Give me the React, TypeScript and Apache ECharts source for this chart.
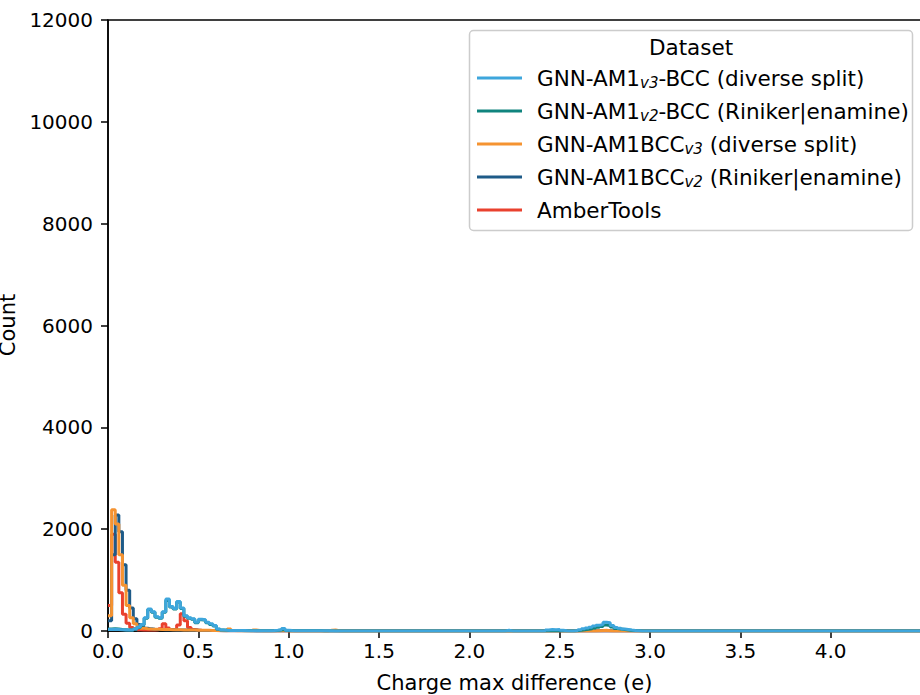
import React, { useEffect, useRef } from "react";
import * as echarts from "echarts";

// ---- data (histogram counts per 0.02 e bin, starting at 0) ----
const BIN_WIDTH = 0.02;
const X_MAX = 4.5;
const Y_TICKS = [0, 2000, 4000, 6000, 8000, 10000, 12000];

const SERIES_NAMES = [
  "GNN-AM1v3-BCC (diverse split)",
  "GNN-AM1v2-BCC (Riniker|enamine)",
  "GNN-AM1BCCv3 (diverse split)",
  "GNN-AM1BCCv2 (Riniker|enamine)",
  "AmberTools",
];

const am1V3Near = [30, 35, 30, 25, 20, 18, 20, 40, 80, 130, 260, 430, 380, 280, 260, 380, 630, 480, 440, 580, 450, 300, 260, 240, 170, 230, 220, 170, 140, 110, 40, 20, 15, 12, 10, 10, 8, 8, 7, 7, 6, 6, 5, 5, 5, 8, 14, 25, 50, 15, 8, 6, 5, 5, 4, 4, 4, 3, 3, 3, 3, 3, 2, 2, 2, 2];
const am1V3FarStart = 109;
const am1V3Far = [2, 15, 2, 2, 2, 2, 2, 2, 2, 2, 2, 2, 20, 30, 25, 30, 15, 3, 2, 2, 10, 25, 45, 60, 75, 100, 115, 125, 170, 160, 110, 70, 55, 40, 30, 20, 12, 6];

const am1V2Near = [40, 45, 40, 30, 25, 20, 20, 35, 70, 120, 250, 420, 370, 270, 250, 370, 600, 470, 430, 570, 440, 290, 250, 230, 160, 220, 210, 160, 130, 100, 35, 18, 14, 12, 10, 9, 8, 7, 7, 6, 6, 5, 5, 5, 4, 6, 10, 18, 30, 12, 6, 5, 4, 4, 4, 3, 3, 3, 3, 2, 2, 2, 2, 2, 2, 2];
const am1V2FarStart = 129;
const am1V2Far = [5, 15, 25, 35, 45, 60, 75, 90, 120, 110, 80, 50, 40, 30, 20, 12, 6, 3];

const am1bccV3Near = [300, 2380, 2100, 1500, 900, 500, 260, 140, 80, 55, 45, 40, 36, 33, 30, 30, 28, 26, 25, 24, 22, 20, 20, 18, 16, 15, 15, 14, 12, 10, 9, 8, 7, 40, 12, 6, 5, 5, 4, 4, 20, 8, 4, 4, 3, 3, 3, 3, 3, 2, 2, 2, 2, 2, 2, 2, 2, 2, 2, 2, 2, 15, 18, 5, 2];
const am1bccV3FarStart = 135;
const am1bccV3Far = [5, 8, 15, 6];

const am1bccV2Near = [200, 1500, 2280, 1950, 1300, 800, 450, 240, 130, 80, 55, 42, 35, 30, 28, 26, 25, 24, 22, 20, 20, 18, 16, 15, 14, 12, 12, 10, 10, 9, 8, 7, 6, 5, 5, 4, 4, 3, 3, 3, 2, 2, 2, 2, 2];

const amberNear = [500, 1900, 1350, 750, 330, 150, 70, 40, 25, 20, 20, 20, 22, 25, 45, 140, 60, 30, 35, 120, 340, 200, 70, 30, 20, 15, 12, 10, 8, 8, 6, 6, 5, 5, 4, 4, 3, 3, 3, 2, 2];

const COLORS = ["#3ea6dc", "#10847e", "#f59331", "#1e5b88", "#e9412e"];

const LEGEND_RICH: Record<string, string> = {
  "GNN-AM1v3-BCC (diverse split)": "{t|GNN-AM1}{s|v3}{t|-BCC (diverse split)}",
  "GNN-AM1v2-BCC (Riniker|enamine)": "{t|GNN-AM1}{s|v2}{t|-BCC (Riniker|enamine)}",
  "GNN-AM1BCCv3 (diverse split)": "{t|GNN-AM1BCC}{s|v3}{t| (diverse split)}",
  "GNN-AM1BCCv2 (Riniker|enamine)": "{t|GNN-AM1BCC}{s|v2}{t| (Riniker|enamine)}",
  AmberTools: "{t|AmberTools}",
};

const FONT = "DejaVu Sans";

function buildCounts(near: number[], far: number[], farStart: number): number[] {
  const nBins = Math.ceil(X_MAX / BIN_WIDTH - 1e-9);
  const counts: number[] = new Array(nBins).fill(0);
  near.forEach((c, i) => {
    if (i < nBins) counts[i] = c;
  });
  far.forEach((c, i) => {
    if (farStart + i < nBins) counts[farStart + i] = c;
  });
  return counts;
}

function toSteps(counts: number[]): [number, number][] {
  const pts: [number, number][] = counts.map((c, i) => [+(i * BIN_WIDTH).toFixed(4), c]);
  pts.push([+(counts.length * BIN_WIDTH).toFixed(4), counts[counts.length - 1]]);
  return pts;
}

export default function App() {
  const ref = useRef<HTMLDivElement>(null);

  useEffect(() => {
    if (!ref.current) return;
    const chart = echarts.init(ref.current, null, { renderer: "svg" });

    const countsByName: Record<string, number[]> = {
      [SERIES_NAMES[0]]: buildCounts(am1V3Near, am1V3Far, am1V3FarStart),
      [SERIES_NAMES[1]]: buildCounts(am1V2Near, am1V2Far, am1V2FarStart),
      [SERIES_NAMES[2]]: buildCounts(am1bccV3Near, am1bccV3Far, am1bccV3FarStart),
      [SERIES_NAMES[3]]: buildCounts(am1bccV2Near, [], 0),
      [SERIES_NAMES[4]]: buildCounts(amberNear, [], 0),
    };

    // seaborn draws hue levels in reverse order: first level on top
    const drawOrder = [4, 3, 2, 1, 0];
    const series = drawOrder.map((idx) => ({
      name: SERIES_NAMES[idx],
      type: "line",
      step: "end",
      showSymbol: false,
      symbol: "none",
      data: toSteps(countsByName[SERIES_NAMES[idx]]),
      lineStyle: { color: COLORS[idx], width: 3 },
      itemStyle: { color: COLORS[idx] },
      z: 2 + (4 - idx),
      silent: true,
    }));

    chart.setOption({
      animation: false,
      backgroundColor: "#ffffff",
      grid: {
        left: 108,
        top: 20,
        width: 813,
        height: 611,
        show: true,
        borderColor: "#000",
        borderWidth: 1.5,
        outerBoundsMode: "none",
        containLabel: false,
      },
      xAxis: {
        type: "value",
        min: 0,
        max: X_MAX,
        interval: 0.5,
        name: "Charge max difference (e)",
        nameLocation: "middle",
        nameGap: 41,
        nameTextStyle: { fontFamily: FONT, fontSize: 21, color: "#000" },
        axisLine: { show: true, lineStyle: { color: "#000", width: 1.5 } },
        axisTick: { show: true, inside: false, length: 7, lineStyle: { color: "#000", width: 1.5 } },
        axisLabel: {
          showMaxLabel: false,
          margin: 10,
          fontFamily: FONT,
          fontSize: 20,
          color: "#000",
          formatter: (v: number) => v.toFixed(1),
        },
        splitLine: { show: false },
      },
      yAxis: {
        type: "value",
        min: Y_TICKS[0],
        max: Y_TICKS[Y_TICKS.length - 1],
        interval: Y_TICKS[1] - Y_TICKS[0],
        axisLine: { show: true, lineStyle: { color: "#000", width: 1.5 } },
        axisTick: { show: true, inside: false, length: 7, lineStyle: { color: "#000", width: 1.5 } },
        axisLabel: {
          margin: 15,
          fontFamily: FONT,
          fontSize: 20,
          color: "#000",
          formatter: (v: number) => String(v),
        },
        splitLine: { show: false },
      },
      legend: {
        data: SERIES_NAMES,
        orient: "vertical",
        left: 469,
        top: 30,
        padding: [37, 8, 10, 8],
        itemGap: 10,
        itemWidth: 45,
        itemHeight: 3,
        icon: "rect",
        selectedMode: false,
        z: 6,
        formatter: (name: string) => LEGEND_RICH[name] ?? name,
        textStyle: {
          padding: [0, 0, 0, 10],
          rich: {
            t: { fontFamily: FONT, fontSize: 21.5, lineHeight: 24, color: "#000" },
            s: {
              fontFamily: FONT,
              fontSize: 15,
              fontStyle: "italic",
              lineHeight: 15,
              verticalAlign: "bottom",
              color: "#000",
            },
          },
        },
      },
      graphic: [
        {
          type: "rect",
          z: 5,
          shape: { x: 469.5, y: 30.5, width: 443, height: 200, r: 4 },
          style: { fill: "rgba(255,255,255,0.8)", stroke: "#cccccc", lineWidth: 1.5 },
        },
        {
          type: "text",
          z: 6,
          x: 691,
          y: 47,
          style: {
            text: "Dataset",
            font: `21.5px "${FONT}"`,
            fill: "#000",
            textAlign: "center",
            textVerticalAlign: "middle",
          },
        },
        {
          type: "text",
          z: 6,
          x: 8,
          y: 325,
          rotation: Math.PI / 2,
          style: {
            text: "Count",
            font: `21px "${FONT}"`,
            fill: "#000",
            textAlign: "center",
            textVerticalAlign: "middle",
          },
        },
      ],
      series,
    });

    return () => {
      chart.dispose();
    };
  }, []);

  return (
    <div
      ref={ref}
      style={{ position: "fixed", left: 0, top: 0, width: 920, height: 695 }}
    />
  );
}
